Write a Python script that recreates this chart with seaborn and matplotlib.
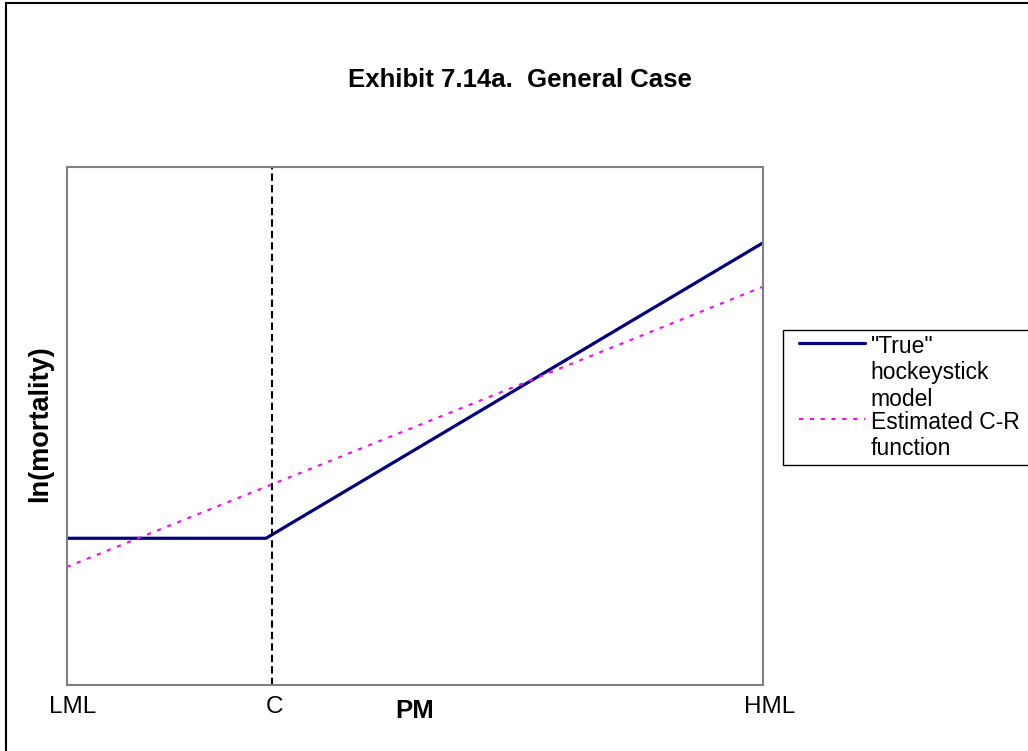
import matplotlib
matplotlib.use("Agg")
import matplotlib.pyplot as plt
from matplotlib.lines import Line2D
from matplotlib.legend_handler import HandlerLine2D
from matplotlib.patches import Rectangle
from matplotlib.transforms import ScaledTranslation
import numpy as np
import pandas as pd
import seaborn as sns

# PM exposure axis (LML = 0, HML = 100) and ln(mortality) on an arbitrary 0-100 scale
tick_labels = ["LML", "C", "HML"]
threshold_c = 29.4

pm_true = [0.0, 28.6, 100.0]
ln_true = [28.35, 28.35, 85.5]

pm_est = [0.0, 100.0]
ln_est = [22.8, 77.0]

label_true = '"True"\nhockeystick\nmodel'
label_est = "Estimated C-R\nfunction"

sns.set_theme(style="white")
plt.rcParams["font.family"] = ["Liberation Sans", "DejaVu Sans"]
plt.rcParams.update({"text.color": "black", "axes.labelcolor": "black",
                     "xtick.color": "black", "ytick.color": "black"})

df = pd.concat([
    pd.DataFrame({"PM": pm_true, "ln": ln_true, "series": label_true}),
    pd.DataFrame({"PM": pm_est, "ln": ln_est, "series": label_est}),
], ignore_index=True)

fig = plt.figure(figsize=(10.28, 7.51), dpi=100)
ax = fig.add_axes([0.0649, 0.0879, 0.6778, 0.6891])

sns.lineplot(data=df[df["series"] == label_true], x="PM", y="ln",
             color="#000080", linewidth=2.3, ax=ax, label=label_true,
             sort=False, estimator=None)
sns.lineplot(data=df[df["series"] == label_est], x="PM", y="ln",
             color="#FF00FF", linewidth=1.5, ax=ax, label=label_est,
             sort=False, estimator=None, dashes=False)
ax.lines[1].set_dashes([2, 3.2])

ax.axvline(threshold_c, color="black", linewidth=1.5, dashes=(3.5, 2))

ax.set_xlim(0, 100)
ax.set_ylim(0, 100)
ax.set_xticks([0, threshold_c, 100])
ax.set_xticklabels(tick_labels, fontsize=17.5)
ax.tick_params(axis="x", length=0, pad=8)
for lbl, dx in zip(ax.get_xticklabels(), [6, 3, 6]):
    lbl.set_transform(lbl.get_transform()
                      + ScaledTranslation(dx / 100, 0, fig.dpi_scale_trans))
ax.set_yticks([])
for s in ax.spines.values():
    s.set_color("#808080")
    s.set_linewidth(1.5)

ax.set_xlabel("PM", fontsize=18.5, fontweight="bold")
ax.xaxis.set_label_coords(0.5, -0.027)
ax.set_ylabel("ln(mortality)", fontsize=19.5, fontweight="bold")
ax.yaxis.set_label_coords(-0.019, 0.505)

fig.text(0.506, 0.893, "Exhibit 7.14a.  General Case", fontsize=18.5,
         fontweight="bold", ha="center", va="center")

handles, labels = ax.get_legend_handles_labels()
ax.get_legend().remove()
leg = fig.legend(handles, labels, loc="upper left", mode="expand",
                 bbox_to_anchor=(783 / 1028, 1 - 330 / 751, 260 / 1028, 0),
                 borderaxespad=0, frameon=True, fancybox=False,
                 fontsize=16.5, borderpad=0.22, handlelength=3.35,
                 handletextpad=0.26, labelspacing=0.0,
                 handler_map={Line2D: HandlerLine2D(xpad=0.48)})
leg.get_frame().set_edgecolor("black")
leg.get_frame().set_linewidth(1.0)
leg.get_frame().set_alpha(1)
for col in leg._legend_handle_box.get_children():
    for row in col.get_children():
        row.align = "top"
for t in leg.get_texts():
    t.set_linespacing(1.19)

# outer frame around the figure
fig.patches.append(Rectangle((6 / 1028, -0.1), 1.2, 1.1 - 3 / 751,
                             transform=fig.transFigure, fill=False,
                             edgecolor="black", linewidth=1.5))

fig.savefig("out.png", dpi=100)
